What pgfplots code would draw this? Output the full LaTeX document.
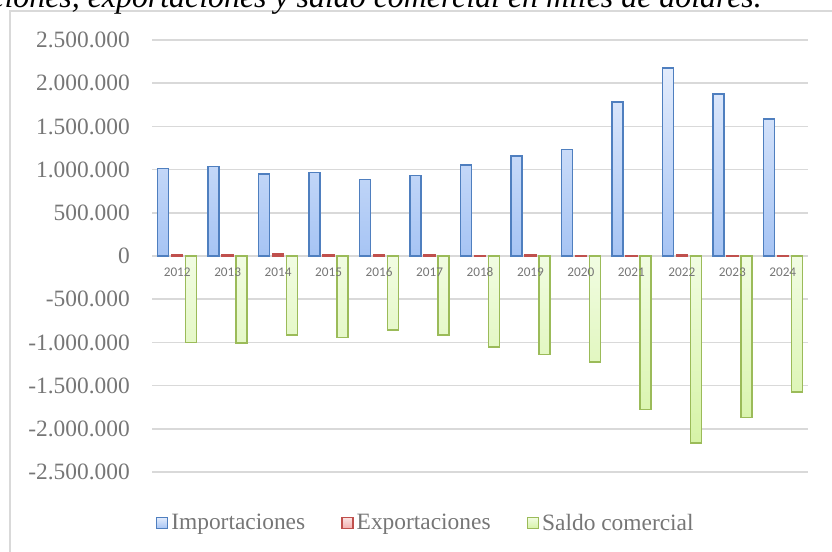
\documentclass[border=0pt]{standalone}
\usepackage{pgfplots}
\pgfplotsset{compat=1.18}
\usepackage{fontspec}
\setmainfont{Liberation Serif}
\newfontfamily\calibri{Carlito}

\definecolor{impline}{HTML}{4F7FBF}
\definecolor{imptop}{HTML}{E3ECFC}
\definecolor{impbot}{HTML}{A6C4F4}
\definecolor{expline}{HTML}{C0504D}
\definecolor{exptop}{HTML}{FBE3E3}
\definecolor{expbot}{HTML}{F2AFAE}
\definecolor{salline}{HTML}{9BBB59}
\definecolor{saltop}{HTML}{F1FCE2}
\definecolor{salbot}{HTML}{D6F3A6}
\definecolor{gridc}{HTML}{D9D9D9}
\definecolor{txtc}{HTML}{767676}

% miles de dolares
\pgfplotstableread{
x year imp exp sal
0 2012 1010000 10000 -1000000
1 2013 1034000 12000 -1009000
2 2014 949000 25000 -916000
3 2015 964000 18000 -943000
4 2016 883000 15000 -858000
5 2017 929000 10000 -916000
6 2018 1054000 8000 -1051000
7 2019 1155000 10000 -1140000
8 2020 1232000 8000 -1224000
9 2021 1782000 8000 -1775000
10 2022 2175000 10000 -2167000
11 2023 1874000 8000 -1867000
12 2024 1586000 8000 -1574000
}\datos

\begin{document}
\begin{tikzpicture}
\useasboundingbox (0,0) rectangle (832bp,552bp);
\draw[draw=gridc, line width=1.2bp] (10bp,541bp) rectangle (840bp,-20bp);
\node[anchor=base east, inner sep=0pt, font=\itshape\fontsize{32}{36}\selectfont]
  at (762bp,544.5bp) {Importaciones, exportaciones y saldo comercial en miles de dólares.};
\begin{axis}[
  at={(152bp,80bp)}, anchor=south west,
  width=656bp, height=432bp, scale only axis,
  ybar=3bp, bar width=11bp,
  xmin=-0.5, xmax=12.5,
  ymin=-2500000, ymax=2500000,
  enlargelimits=false,
  scaled y ticks=false,
  axis x line*=middle, axis y line*=left,
  x axis line style={draw=gridc, line width=2bp, -},
  y axis line style={draw=none},
  major tick length=0pt,
  xtick=\empty,
  ytick={-2500000,-2000000,-1500000,-1000000,-500000,0,500000,1000000,1500000,2000000,2500000},
  yticklabels={-2.500.000,-2.000.000,-1.500.000,-1.000.000,-500.000,0,500.000,1.000.000,1.500.000,2.000.000,2.500.000},
  yticklabel style={font=\fontsize{23.5}{27}\selectfont, text=txtc, inner xsep=0pt, xshift=-22bp},
  ymajorgrids, grid style={draw=gridc, line width=1.5bp},
  legend columns=3,
  legend style={at={(0.418,-0.118)}, anchor=center, draw=none, fill=none,
    font=\fontsize{23.5}{27}\selectfont, text=txtc,
    /tikz/every even column/.append style={column sep=33bp},
    nodes={inner xsep=3bp}},
  legend image code/.code={\draw[#1, line width=1.5bp] (0bp,-5.5bp) rectangle (11bp,5.5bp);},
]
\addplot[draw=impline, line width=1.5bp, top color=imptop, bottom color=impbot] table[x=x, y=imp] {\datos};
\addplot[draw=expline, line width=1.5bp, top color=exptop, bottom color=expbot] table[x=x, y=exp] {\datos};
\addplot[draw=salline, line width=1.5bp, top color=saltop, bottom color=salbot] table[x=x, y=sal] {\datos};
\legend{Importaciones, Exportaciones, Saldo comercial}
% year labels drawn after the bars so they stay visible over them
\pgfplotsinvokeforeach{0,...,12}{
  \node[anchor=north, yshift=-8bp, font=\calibri\fontsize{13.3}{15}\selectfont, text=txtc]
    at (axis cs:#1,0) {\the\numexpr2012+#1\relax};
}
\end{axis}
\end{tikzpicture}
\end{document}
